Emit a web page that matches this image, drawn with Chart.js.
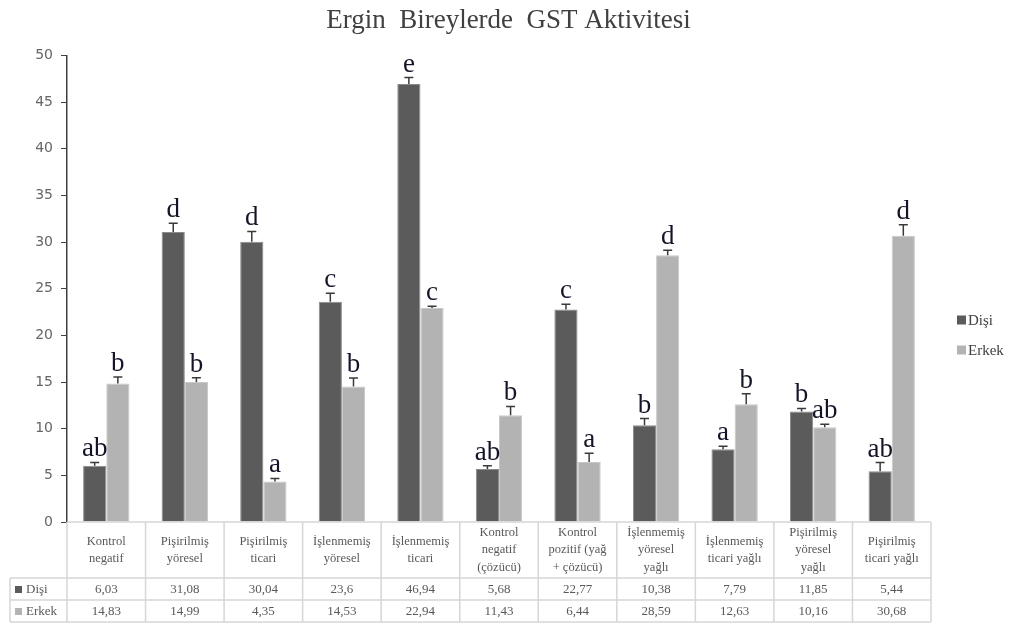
<!DOCTYPE html>
<html>
<head>
<meta charset="utf-8">
<script src="https://cdn.jsdelivr.net/npm/chart.js@4/dist/chart.umd.min.js"></script>
<style>
  html, body { margin: 0; padding: 0; background: #ffffff; }
  #c { display: block; }
</style>
</head>
<body>
<canvas id="c" width="1017" height="626"></canvas>
<script>
// ---- data ----
const categories = [
  ['Kontrol', 'negatif'],
  ['Pişirilmiş', 'yöresel'],
  ['Pişirilmiş', 'ticari'],
  ['İşlenmemiş', 'yöresel'],
  ['İşlenmemiş', 'ticari'],
  ['Kontrol', 'negatif', '(çözücü)'],
  ['Kontrol', 'pozitif (yağ', '+ çözücü)'],
  ['İşlenmemiş', 'yöresel', 'yağlı'],
  ['İşlenmemiş', 'ticari yağlı'],
  ['Pişirilmiş', 'yöresel', 'yağlı'],
  ['Pişirilmiş', 'ticari yağlı']
];
const disiValues  = [6.03, 31.08, 30.04, 23.6, 46.94, 5.68, 22.77, 10.38, 7.79, 11.85, 5.44];
const erkekValues = [14.83, 14.99, 4.35, 14.53, 22.94, 11.43, 6.44, 28.59, 12.63, 10.16, 30.68];
const disiTableText  = ['6,03', '31,08', '30,04', '23,6', '46,94', '5,68', '22,77', '10,38', '7,79', '11,85', '5,44'];
const erkekTableText = ['14,83', '14,99', '4,35', '14,53', '22,94', '11,43', '6,44', '28,59', '12,63', '10,16', '30,68'];
const disiErrors  = [0.35, 0.93, 1.1, 0.9, 0.68, 0.36, 0.57, 0.71, 0.32, 0.32, 0.93];
const erkekErrors = [0.7, 0.46, 0.32, 0.9, 0.18, 0.96, 0.93, 0.54, 1.1, 0.32, 1.18];
const disiLetters  = ['ab', 'd', 'd', 'c', 'e', 'ab', 'c', 'b', 'a', 'b', 'ab'];
const erkekLetters = ['b', 'b', 'a', 'b', 'c', 'b', 'a', 'd', 'b', 'ab', 'd'];
const seriesNames = ['Dişi', 'Erkek'];
const yTicks = { min: 0, max: 50, step: 5 };
const titleText = 'Ergin  Bireylerde  GST Aktivitesi';

// ---- styles ----
const DARK = '#5b5b5b';
const LIGHT = '#b3b3b3';
const SERIF = '"Liberation Serif", "Times New Roman", serif';
const SANS = '"DejaVu Sans", Verdana, sans-serif';
const TEXT_GRAY = '#595959';

const errorsBySet = [disiErrors, erkekErrors];
const lettersBySet = [disiLetters, erkekLetters];
const tableTextBySet = [disiTableText, erkekTableText];

const extrasPlugin = {
  id: 'extras',
  afterDatasetsDraw(chart) {
    const ctx = chart.ctx;
    const y = chart.scales.y;
    ctx.save();
    chart.data.datasets.forEach((ds, di) => {
      const meta = chart.getDatasetMeta(di);
      meta.data.forEach((bar, i) => {
        const v = ds.data[i];
        const top = y.getPixelForValue(v);
        const capY = y.getPixelForValue(v + errorsBySet[di][i]);
        ctx.strokeStyle = '#3a3a3a';
        ctx.lineWidth = 1.5;
        ctx.beginPath();
        ctx.moveTo(bar.x, top);
        ctx.lineTo(bar.x, capY);
        ctx.moveTo(bar.x - 4.5, capY);
        ctx.lineTo(bar.x + 4.5, capY);
        ctx.stroke();
        ctx.fillStyle = '#141428';
        ctx.font = '27px ' + SERIF;
        ctx.textAlign = 'center';
        ctx.textBaseline = 'alphabetic';
        ctx.fillText(lettersBySet[di][i], bar.x, capY - 6);
      });
    });
    ctx.restore();
  },
  afterDraw(chart) {
    const ctx = chart.ctx;
    const xs = chart.scales.x;
    const area = chart.chartArea;
    const half = (xs.getPixelForValue(1) - xs.getPixelForValue(0)) / 2;
    const left = area.left, right = area.right;
    const labelLeft = 10;
    const hTop = area.bottom, hBot = 578, r1 = 600, r2 = 622;
    ctx.save();
    ctx.strokeStyle = '#d6d6d6';
    ctx.lineWidth = 1.5;
    ctx.beginPath();
    ctx.moveTo(left, hTop); ctx.lineTo(right, hTop);
    [hBot, r1, r2].forEach(yy => { ctx.moveTo(labelLeft, yy); ctx.lineTo(right, yy); });
    ctx.moveTo(labelLeft, hBot); ctx.lineTo(labelLeft, r2);
    for (let i = 0; i < categories.length; i++) {
      const b = xs.getPixelForValue(i) - half;
      ctx.moveTo(b, hTop); ctx.lineTo(b, r2);
    }
    ctx.moveTo(right, hTop); ctx.lineTo(right, r2);
    ctx.stroke();

    ctx.fillStyle = TEXT_GRAY;
    ctx.font = '12.5px ' + SERIF;
    ctx.textAlign = 'center';
    ctx.textBaseline = 'middle';
    const lh = 17.5;
    const mid = (hTop + hBot) / 2;
    chart.data.labels.forEach((lines, i) => {
      const cx = xs.getPixelForValue(i);
      const y0 = mid - (lines.length - 1) * lh / 2;
      lines.forEach((t, k) => ctx.fillText(t, cx, y0 + k * lh));
    });
    const rowMids = [(hBot + r1) / 2 + 1, (r1 + r2) / 2 + 1];
    ctx.font = '13px ' + SERIF;
    tableTextBySet.forEach((arr, di) => {
      arr.forEach((t, i) => ctx.fillText(t, xs.getPixelForValue(i), rowMids[di]));
    });
    const colors = [DARK, LIGHT];
    ctx.textAlign = 'left';
    seriesNames.forEach((n, di) => {
      ctx.fillStyle = colors[di];
      ctx.fillRect(15, rowMids[di] - 4, 7, 7);
      ctx.fillStyle = TEXT_GRAY;
      ctx.fillText(n, 26, rowMids[di]);
    });
    ctx.font = '15px ' + SERIF;
    const legY = [320, 350];
    seriesNames.forEach((n, di) => {
      ctx.fillStyle = colors[di];
      ctx.fillRect(957, legY[di] - 4.5, 9, 9);
      ctx.fillStyle = '#404040';
      ctx.fillText(n, 968, legY[di] + 1);
    });
    ctx.restore();
  }
};

new Chart(document.getElementById('c'), {
  type: 'bar',
  data: {
    labels: categories,
    datasets: [
      { label: seriesNames[0], data: disiValues, backgroundColor: DARK, borderColor: '#8a8a8a', borderWidth: 1, yAxisID: 'y' },
      { label: seriesNames[1], data: erkekValues, backgroundColor: LIGHT, borderColor: '#c8c8c8', borderWidth: 1, yAxisID: 'y' }
    ]
  },
  options: {
    responsive: false,
    animation: false,
    devicePixelRatio: 1,
    layout: { padding: { left: 0, right: 0, top: 0, bottom: 104 } },
    datasets: { bar: { categoryPercentage: 0.59, barPercentage: 1.0 } },
    plugins: {
      legend: { display: false },
      tooltip: { enabled: false },
      title: {
        display: true,
        text: titleText,
        color: '#404040',
        font: { family: SERIF, size: 27, weight: 'normal' },
        padding: { top: 5, bottom: 18 }
      }
    },
    scales: {
      x: { display: false },
      y: {
        min: yTicks.min,
        max: yTicks.max,
        ticks: { stepSize: yTicks.step, color: '#666666', font: { family: SANS, size: 14 }, padding: 8 },
        grid: { drawOnChartArea: false, drawTicks: true, tickLength: 6, color: '#404040', lineWidth: 1 },
        border: { display: true, color: '#404040', width: 1.5 },
        afterFit(scale) { scale.width = 67; }
      },
      yRight: {
        position: 'right',
        display: true,
        min: yTicks.min,
        max: yTicks.max,
        ticks: { display: false },
        grid: { display: false, drawTicks: false },
        border: { display: false },
        afterFit(scale) { scale.width = 86; }
      }
    }
  },
  plugins: [extrasPlugin]
});
</script>
</body>
</html>
